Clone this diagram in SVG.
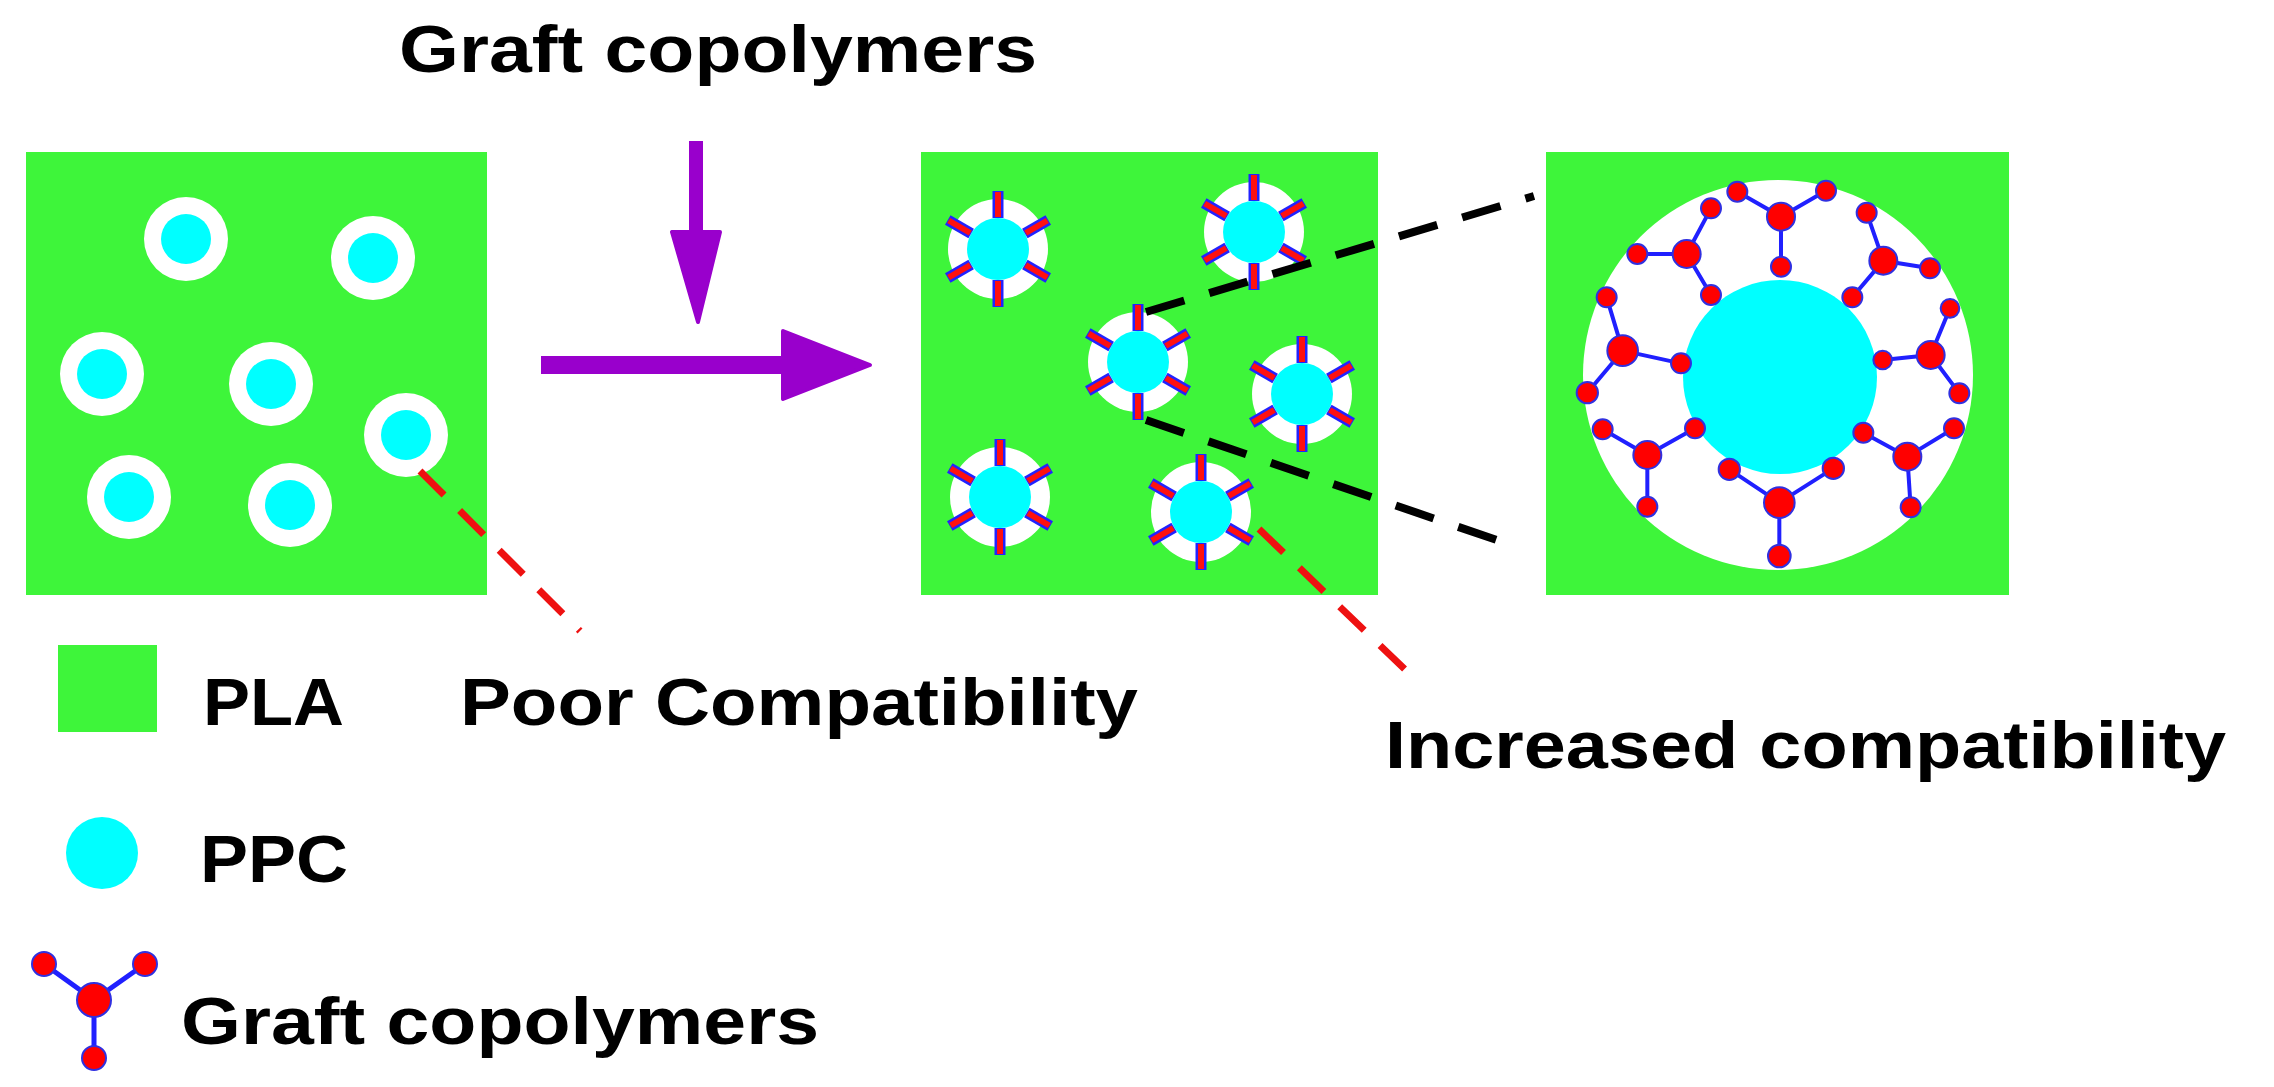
<svg xmlns="http://www.w3.org/2000/svg" width="2274" height="1087" viewBox="0 0 2274 1087">
<defs>
<style>
.t{font-family:"Liberation Sans",Arial,sans-serif;font-weight:bold;font-size:66px;fill:#000}
.box{fill:#3ef53a}
.w{fill:#fff}
.c{fill:#00ffff}
.sp{stroke:#2222ff;stroke-width:11;stroke-linecap:butt}
.sp2{stroke:#ff1010;stroke-width:6}
.bd{stroke:#2020ff;stroke-width:12}
.at{fill:#ff0000;stroke:#3030e0;stroke-width:6}
</style>
<g id="spokes">
<g transform="rotate(0)"><line class="sp" x1="0" y1="-31" x2="0" y2="-58"/><line class="sp2" x1="0" y1="-32" x2="0" y2="-57"/></g>
<g transform="rotate(60)"><line class="sp" x1="0" y1="-31" x2="0" y2="-58"/><line class="sp2" x1="0" y1="-32" x2="0" y2="-57"/></g>
<g transform="rotate(120)"><line class="sp" x1="0" y1="-31" x2="0" y2="-58"/><line class="sp2" x1="0" y1="-32" x2="0" y2="-57"/></g>
<g transform="rotate(180)"><line class="sp" x1="0" y1="-31" x2="0" y2="-58"/><line class="sp2" x1="0" y1="-32" x2="0" y2="-57"/></g>
<g transform="rotate(240)"><line class="sp" x1="0" y1="-31" x2="0" y2="-58"/><line class="sp2" x1="0" y1="-32" x2="0" y2="-57"/></g>
<g transform="rotate(300)"><line class="sp" x1="0" y1="-31" x2="0" y2="-58"/><line class="sp2" x1="0" y1="-32" x2="0" y2="-57"/></g>
</g>
<g id="drop"><circle class="w" r="42"/><circle class="c" r="25"/></g>
<g id="gdrop"><circle class="w" r="50"/><circle class="c" r="31"/><use href="#spokes"/></g>
</defs>
<rect width="2274" height="1087" fill="#fff"/>
<text class="t" x="399" y="72" textLength="638" lengthAdjust="spacingAndGlyphs">Graft copolymers</text>

<g id="box1">
<rect class="box" x="26" y="152" width="461" height="443"/>
<use href="#drop" x="186" y="239"/><use href="#drop" x="373" y="258"/><use href="#drop" x="102" y="374"/>
<use href="#drop" x="271" y="384"/><use href="#drop" x="406" y="435"/><use href="#drop" x="129" y="497"/><use href="#drop" x="290" y="505"/>
</g>
<g id="box2">
<rect class="box" x="921" y="152" width="457" height="443"/>
<use href="#gdrop" x="998" y="249"/><use href="#gdrop" x="1254" y="232"/><use href="#gdrop" x="1138" y="362"/>
<use href="#gdrop" x="1302" y="394"/><use href="#gdrop" x="1000" y="497"/><use href="#gdrop" x="1201" y="512"/>
</g>
<g id="box3">
<rect class="box" x="1546" y="152" width="463" height="443"/>
<circle class="w" cx="1778" cy="375" r="195"/>
<circle class="c" cx="1780" cy="377" r="97"/>
<g transform="translate(1500,100) scale(0.33333)">
<path class="bd" fill="none" d="M843 350L712 275M843 350L978 272M843 350L843 500
M560 462L633 325M560 462L412 462M560 462L633 585
M1150 482L1100 338M1150 482L1290 505M1150 482L1057 592
M368 752L320 592M368 752L262 878M368 752L543 790
M1292 765L1350 625M1292 765L1148 780M1292 765L1378 880
M442 1065L308 988M442 1065L585 985M442 1065L442 1220
M838 1208L688 1108M838 1208L1000 1105M838 1208L838 1368
M1222 1070L1090 998M1222 1070L1362 985M1222 1070L1232 1222"/>
<g class="at">
<circle cx="843" cy="350" r="42"/><circle cx="712" cy="275" r="30"/><circle cx="978" cy="272" r="30"/><circle cx="843" cy="500" r="30"/>
<circle cx="560" cy="462" r="42"/><circle cx="633" cy="325" r="30"/><circle cx="412" cy="462" r="30"/><circle cx="633" cy="585" r="30"/>
<circle cx="1150" cy="482" r="42"/><circle cx="1100" cy="338" r="30"/><circle cx="1290" cy="505" r="30"/><circle cx="1057" cy="592" r="30"/>
<circle cx="368" cy="752" r="46"/><circle cx="320" cy="592" r="30"/><circle cx="262" cy="878" r="32"/><circle cx="543" cy="790" r="30"/>
<circle cx="1292" cy="765" r="42"/><circle cx="1350" cy="625" r="28"/><circle cx="1148" cy="780" r="28"/><circle cx="1378" cy="880" r="30"/>
<circle cx="442" cy="1065" r="42"/><circle cx="308" cy="988" r="30"/><circle cx="585" cy="985" r="30"/><circle cx="442" cy="1220" r="30"/>
<circle cx="838" cy="1208" r="46"/><circle cx="688" cy="1108" r="32"/><circle cx="1000" cy="1105" r="32"/><circle cx="838" cy="1368" r="34"/>
<circle cx="1222" cy="1070" r="42"/><circle cx="1090" cy="998" r="30"/><circle cx="1362" cy="985" r="30"/><circle cx="1232" cy="1222" r="30"/>
</g>
</g>
</g>

<g id="connectors">
<line x1="696" y1="141" x2="696" y2="240" stroke="#9900cc" stroke-width="14"/>
<path d="M672 232L720 232L698 322Z" fill="#9900cc" stroke="#9900cc" stroke-width="4" stroke-linejoin="round"/>
<line x1="541" y1="365" x2="790" y2="365" stroke="#9900cc" stroke-width="18"/>
<path d="M783 331L870 365L783 399Z" fill="#9900cc" stroke="#9900cc" stroke-width="4" stroke-linejoin="round"/>
<line x1="420" y1="471" x2="580" y2="631" stroke="#ee1111" stroke-width="7" stroke-dasharray="34,22"/>
<line x1="1259" y1="529" x2="1418" y2="682" stroke="#ee1111" stroke-width="7" stroke-dasharray="34,22"/>
<line x1="1146" y1="312" x2="1534" y2="196" stroke="#000" stroke-width="8" stroke-dasharray="40,26"/>
<line x1="1146" y1="420" x2="1520" y2="548" stroke="#000" stroke-width="8" stroke-dasharray="40,26"/>
</g>

<g id="legend">
<rect class="box" x="58" y="645" width="99" height="87"/>
<text class="t" x="203" y="725" textLength="141" lengthAdjust="spacingAndGlyphs">PLA</text>
<text class="t" x="460" y="725" textLength="678" lengthAdjust="spacingAndGlyphs">Poor Compatibility</text>
<text class="t" x="1385" y="768" textLength="841" lengthAdjust="spacingAndGlyphs">Increased compatibility</text>
<circle class="c" cx="102" cy="853" r="36"/>
<text class="t" x="200" y="882" textLength="148" lengthAdjust="spacingAndGlyphs">PPC</text>
<path d="M94 1000L44 964M94 1000L145 964M94 1000L94 1058" stroke="#2020ff" stroke-width="5"/>
<circle cx="94" cy="1000" r="17" fill="#ff0000" stroke="#3030e0" stroke-width="2"/>
<circle cx="44" cy="964" r="12" fill="#ff0000" stroke="#3030e0" stroke-width="2"/>
<circle cx="145" cy="964" r="12" fill="#ff0000" stroke="#3030e0" stroke-width="2"/>
<circle cx="94" cy="1058" r="12" fill="#ff0000" stroke="#3030e0" stroke-width="2"/>
<text class="t" x="181" y="1044" textLength="638" lengthAdjust="spacingAndGlyphs">Graft copolymers</text>
</g>
</svg>
